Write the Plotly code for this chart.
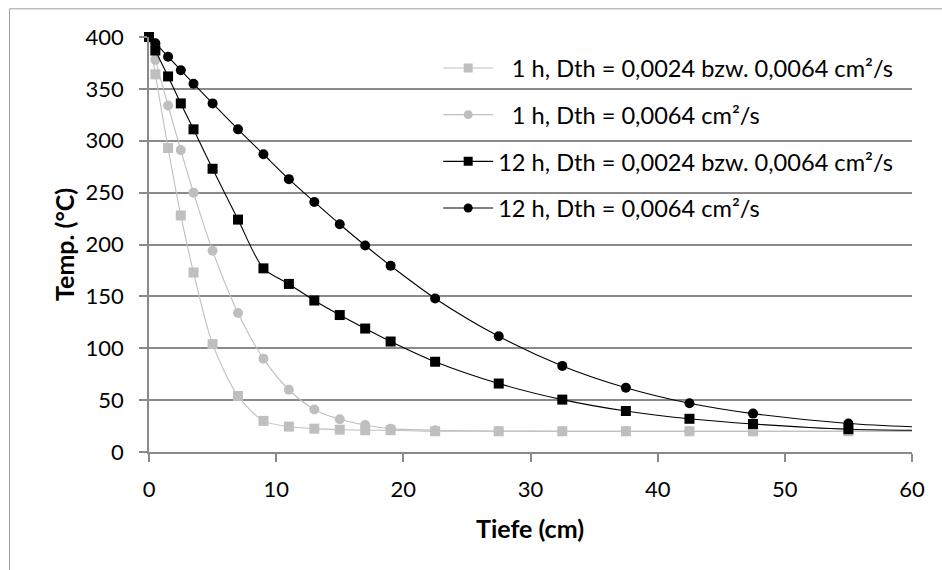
import plotly.graph_objects as go

# Depth (cm); last value lies beyond the axis range so the lines run to the edge
depth = [0, 0.5, 1.5, 2.5, 3.5, 5, 7, 9, 11, 13, 15, 17, 19, 22.5, 27.5, 32.5, 37.5, 42.5, 47.5, 55, 65]

t1h_mix = [400, 364, 293, 228, 173, 104, 54, 30, 24.5, 22.5, 21.5, 21, 21, 20, 20, 20, 20, 20, 20, 20, 20]
t1h_64 = [400, 378, 334, 291, 250, 194, 134, 90, 60, 41, 31.5, 26, 22.5, 21, 20.3, 20, 20, 20, 20, 20, 20]
t12h_mix = [400, 387, 362, 336, 311, 273, 224, 177, 162, 146, 132, 119, 106.5, 87, 66, 50.5, 39.5, 32, 27, 22, 20.5]
t12h_64 = [400, 394, 381, 368, 355, 336, 311, 287, 263, 241, 219.5, 199, 179.5, 148, 111.5, 83, 62, 47, 37, 27.5, 22]

names = [
    "\u20071 h, Dth = 0,0024 bzw. 0,0064 cm²/s",
    "\u20071 h, Dth = 0,0064 cm²/s",
    "12 h, Dth = 0,0024 bzw. 0,0064 cm²/s",
    "12 h, Dth = 0,0064 cm²/s",
]

GRAY = "#BFBFBF"
BLACK = "#000000"
FONT = "Lato"
FS = 22
LFS = 23.6
TFS = 25

series = [
    (names[0], t1h_mix, GRAY, "square"),
    (names[1], t1h_64, GRAY, "circle"),
    (names[2], t12h_mix, BLACK, "square"),
    (names[3], t12h_64, BLACK, "circle"),
]

fig = go.Figure()

# draw order (bottom -> top)
draw_order = [1, 0, 3, 2]
n_mark = len(depth) - 1
for i in draw_order:
    name, vals, col, sym = series[i]
    fig.add_trace(go.Scatter(
        x=depth, y=vals, mode="lines",
        line=dict(color=col, width=1.1, shape="spline", smoothing=0.8),
        showlegend=False, hoverinfo="skip"))
    fig.add_trace(go.Scatter(
        x=depth[:n_mark], y=vals[:n_mark], mode="markers",
        marker=dict(symbol=sym, size=10, color=col, line=dict(width=0)),
        cliponaxis=False, showlegend=False, name=name.strip()))

# legend entries
for k, (name, vals, col, sym) in enumerate(series):
    fig.add_trace(go.Scatter(
        x=[None], y=[None], mode="lines+markers", name=name,
        legendgroup=f"g{k}",
        line=dict(color=col, width=1.1),
        marker=dict(symbol=sym, size=9, color=col, line=dict(width=0))))

GRID = "#8A8A8A"
fig.update_layout(
    width=942, height=570,
    margin=dict(l=149, r=30, t=37, b=118),
    paper_bgcolor="white", plot_bgcolor="white",
    font=dict(family=FONT, size=FS, color="black"),
    showlegend=True,
    legend=dict(x=0.379, y=0.978, xanchor="left", yanchor="top",
                bgcolor="rgba(0,0,0,0)", borderwidth=0, itemwidth=50,
                tracegroupgap=13, font=dict(size=LFS, family=FONT)),
    xaxis=dict(range=[0, 60], dtick=10, tick0=0, showgrid=False, zeroline=False,
               showline=True, linecolor=GRID, linewidth=1.5,
               ticks="outside", ticklen=8, tickcolor=GRID, tickwidth=1.5,
               ticklabelstandoff=9, fixedrange=True),
    yaxis=dict(range=[0, 400], dtick=50, tick0=0, showgrid=True, gridcolor=GRID,
               gridwidth=1.5, zeroline=False,
               showline=True, linecolor=GRID, linewidth=1.5,
               ticks="outside", ticklen=8, tickcolor=GRID, tickwidth=1.5,
               ticklabelstandoff=11, fixedrange=True),
    annotations=[
        dict(text="<b>Temp. (°C)</b>", textangle=-90, x=(64 - 149) / 763, y=0.499,
             xref="paper", yref="paper", showarrow=False, xanchor="center", yanchor="middle",
             font=dict(size=TFS, family=FONT)),
        dict(text="<b>Tiefe (cm)</b>", x=0.499, y=(451.7 - 528) / 415,
             xref="paper", yref="paper", showarrow=False, xanchor="center", yanchor="middle",
             font=dict(size=TFS, family=FONT)),
    ],
    shapes=[
        dict(type="rect", xref="paper", yref="paper",
             x0=(9.5 - 149) / 763, x1=1.5, y0=-1.0, y1=(451.7 - 8.5) / 415,
             line=dict(color="#A0A0A0", width=1), fillcolor="rgba(0,0,0,0)", layer="below"),
    ],
)

fig.write_html("out.html")
